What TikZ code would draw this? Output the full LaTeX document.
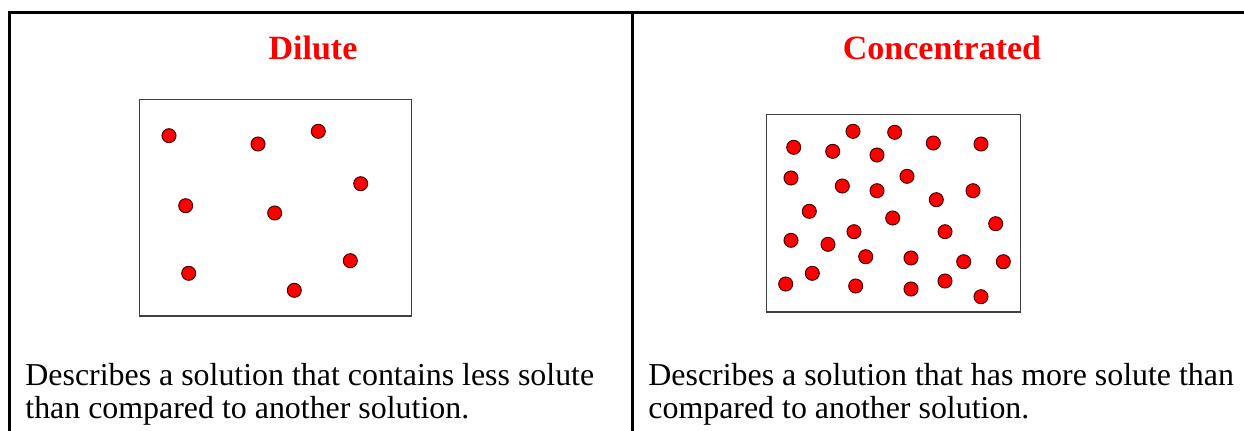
\documentclass[tikz,border=0pt]{standalone}
\usepackage{fontspec}
\setmainfont{Liberation Serif}
\usetikzlibrary{positioning}
\tikzset{
  frame/.style={line width=1.5pt,line cap=rect},
  vessel/.style={draw=black!75,line width=0.6pt},
  particle/.style={fill=red,draw=black!70!red,line width=0.5pt},
  heading/.style={anchor=base,inner sep=0pt,text=red,font=\fontsize{17}{20}\selectfont\bfseries},
  caption/.style={anchor=base west,inner sep=0pt,font=\fontsize{15.95}{19}\selectfont},
}

\begin{document}
\begin{tikzpicture}[x=0.5pt,y=-0.5pt]
  \useasboundingbox (0,0) rectangle (1244,430);
  % table rules
  \draw[frame] (9,430) -- (9,12.5) -- (1244,12.5);
  \draw[frame] (632,12.5) -- (632,430);

  % left column
  \node[heading] (dil) at (313,59) {Dilute};
  \draw[vessel] (139.5,99.5) rectangle (411.5,316);
  \foreach \px/\py in {169/135.7, 258/144, 318.3/131.3, 360.7/183.7, 185.7/205.7,
                       274.7/213, 188.7/273.3, 350.3/260.7, 294.3/290.3}
    \draw[particle] (\px,\py) circle[radius=7];
  \node[caption] (dtxt1) at (25,385) {Describes a solution that contains less solute};
  \node[caption] (dtxt2) at (25,418) {than compared to another solution.};

  % right column
  \node[heading] (con) at (942,59) {Concentrated};
  \draw[vessel] (766.5,114.5) rectangle (1020.5,312);
  \foreach \px/\py in {793.7/147.3, 853/131.3, 894.7/132.3, 832.7/151.3, 877/155,
                       933.3/143, 981/144, 791/178, 842.3/186, 877/190.7,
                       907/176.3, 936.3/199.7, 973/190.7, 809.3/211.3, 892.7/218,
                       995.7/223.7, 791/240.3, 828/244.3, 854/231.7, 945/231.7,
                       865.7/256.7, 911/258, 963.7/261.7, 1003.3/261.7, 785.7/284,
                       812.3/273.3, 855.7/286, 911/289, 945/281, 981/296.7}
    \draw[particle] (\px,\py) circle[radius=7];
  \node[caption] (ctxt1) at (648,385) {Describes a solution that has more solute than};
  \node[caption] (ctxt2) at (648,418) {compared to another solution.};
\end{tikzpicture}
\end{document}
